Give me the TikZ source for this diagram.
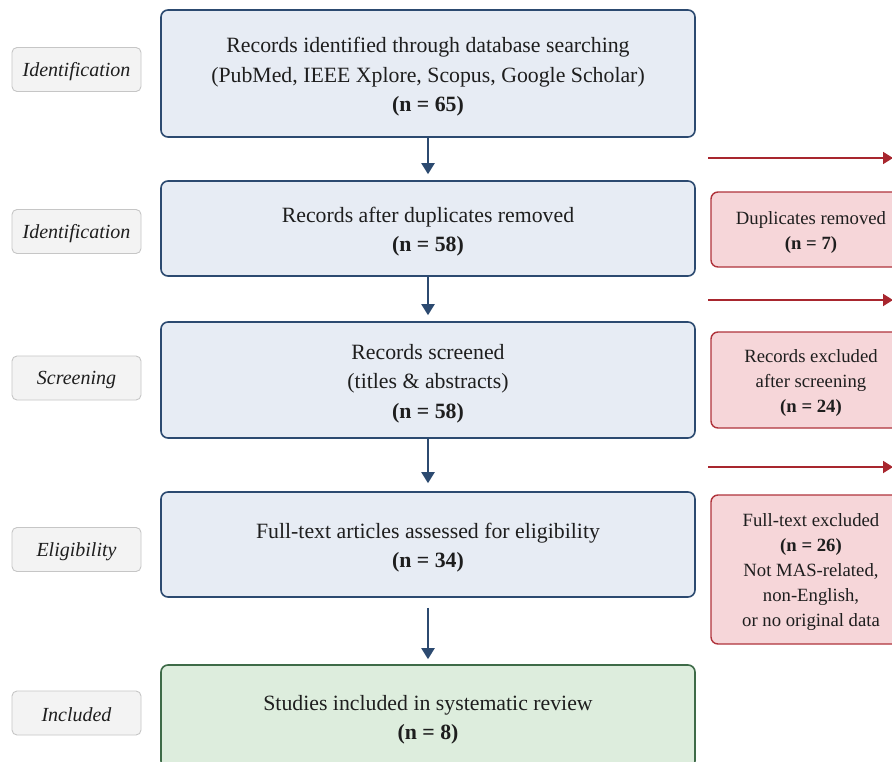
\documentclass[tikz,border=0pt]{standalone}
\usepackage{fontspec}
\setmainfont{Liberation Serif}
\usetikzlibrary{arrows.meta}
\definecolor{navy}{HTML}{2C4A70}
\definecolor{bluefill}{HTML}{E7ECF4}
\definecolor{labfill}{HTML}{F3F3F3}
\definecolor{labdraw}{HTML}{C6C6C6}
\definecolor{redfill}{HTML}{F6D6D9}
\definecolor{reddraw}{HTML}{B0343C}
\definecolor{redline}{HTML}{A8262E}
\definecolor{greenfill}{HTML}{DDEDDD}
\definecolor{greendraw}{HTML}{3E6B48}
\definecolor{txt}{HTML}{1E1E1E}
\newcommand{\mainlift}{\rule{0pt}{22pt}}
\newcommand{\excllift}{\rule{0pt}{18pt}}
\tikzset{
  mainbox/.style={draw=navy, fill=bluefill, line width=1.6pt, rounded corners=7pt,
    minimum width=534pt, align=center, text=txt, inner sep=0pt,
    font=\fontsize{21.8}{29.5}\selectfont},
  greenbox/.style={mainbox, draw=greendraw, fill=greenfill},
  stagebox/.style={draw=labdraw, fill=labfill, line width=0.9pt, rounded corners=5pt,
    minimum width=129pt, minimum height=44pt, text=txt, inner sep=0pt,
    font=\fontsize{20}{22}\selectfont\itshape,
    execute at begin node={\rule{0pt}{18pt}}},
  exclbox/.style={draw=reddraw, fill=redfill, line width=1.4pt, rounded corners=7pt,
    minimum width=200pt, align=center, text=txt, inner sep=0pt,
    font=\fontsize{18.7}{25}\selectfont},
  flowarrow/.style={draw=navy, line width=2pt, -{Triangle[width=13pt,length=11pt]}},
  exclarrow/.style={draw=redline, line width=1.8pt, -{Triangle[width=12pt,length=10pt]}},
}
\begin{document}
\begin{tikzpicture}[x=1pt,y=-1pt]
\useasboundingbox (0,0) rectangle (892,761);
\clip (0,0) rectangle (892,761);
\fill[white] (0,0) rectangle (892,761);

% main flow boxes
\node[mainbox, minimum height=127pt] (b1) at (428,73.5)
  {\mainlift Records identified through database searching\\(PubMed, IEEE Xplore, Scopus, Google Scholar)\\\textbf{(n = 65)}};
\node[mainbox, minimum height=95pt] (b2) at (428,228.5)
  {\mainlift Records after duplicates removed\\\textbf{(n = 58)}};
\node[mainbox, minimum height=116pt] (b3) at (428,380)
  {\mainlift Records screened\\(titles \& abstracts)\\\textbf{(n = 58)}};
\node[mainbox, minimum height=105pt] (b4) at (428,544.5)
  {\mainlift Full-text articles assessed for eligibility\\\textbf{(n = 34)}};
\node[greenbox, minimum height=103pt] (b5) at (428,716.5)
  {\mainlift Studies included in systematic review\\\textbf{(n = 8)}};

% stage labels
\node[stagebox] (s1) at (76.5,69.5) {Identification};
\node[stagebox] (s2) at (76.5,231.5) {Identification};
\node[stagebox] (s3) at (76.5,378) {Screening};
\node[stagebox] (s4) at (76.5,549.5) {Eligibility};
\node[stagebox] (s5) at (76.5,713) {Included};

% exclusion boxes
\node[exclbox, minimum height=75pt] (e1) at (811,229.5)
  {\excllift Duplicates removed\\\textbf{(n = 7)}};
\node[exclbox, minimum height=96pt] (e2) at (811,380)
  {\excllift Records excluded\\after screening\\\textbf{(n = 24)}};
\node[exclbox, minimum height=149pt] (e3) at (811,569.5)
  {\excllift Full-text excluded\\\textbf{(n = 26)}\\Not MAS-related,\\non-English,\\or no original data};

% flow arrows
\draw[flowarrow, shorten >=6pt] (b1.south) -- (b2.north);
\draw[flowarrow, shorten >=6pt] (b2.south) -- (b3.north);
\draw[flowarrow, shorten >=8pt] (b3.south) -- (b4.north);
\draw[flowarrow, shorten <=10pt, shorten >=5pt] (b4.south) -- (b5.north);

% exclusion arrows
\coordinate (r1s) at (708,158); \coordinate (r1e) at (893,158);
\coordinate (r2s) at (708,300); \coordinate (r2e) at (893,300);
\coordinate (r3s) at (708,467); \coordinate (r3e) at (893,467);
\draw[exclarrow] (r1s) -- (r1e);
\draw[exclarrow] (r2s) -- (r2e);
\draw[exclarrow] (r3s) -- (r3e);
\end{tikzpicture}
\end{document}
